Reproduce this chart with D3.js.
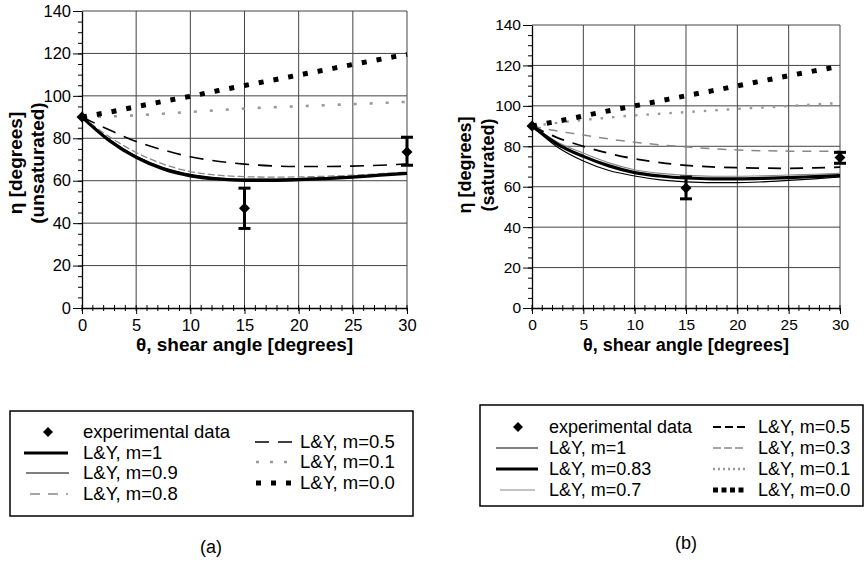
<!DOCTYPE html>
<html>
<head>
<meta charset="utf-8">
<script src="https://cdn.jsdelivr.net/npm/d3@7"></script>
<style>
  body { margin: 0; background: #fff; }
  svg { display: block; font-family: "Liberation Sans", Arial, Helvetica, sans-serif; }
</style>
</head>
<body>
<div id="chart"></div>
<script>
// Shear angle samples (degrees), shared by every curve
var theta = [0, 2.5, 5, 7.5, 10, 12.5, 15, 17.5, 20, 22.5, 25, 27.5, 30];

// Panel (a): unsaturated
var etaA_m1  = [90, 79, 71, 65.5, 62.3, 60.8, 60.2, 60.2, 60.5, 61, 61.7, 62.6, 63.5];
var etaA_m09 = [90, 79.6, 71.6, 66.2, 63, 61.4, 60.8, 60.8, 61, 61.4, 62, 62.8, 63.8];
var etaA_m08 = [90, 80.8, 73.3, 67.8, 64.3, 62.6, 61.9, 61.7, 61.8, 62.1, 62.6, 63.3, 64.1];
var etaA_m05 = [90, 84, 78.5, 74.5, 71.3, 69.2, 67.8, 67, 66.7, 66.7, 66.9, 67.3, 67.9];
var etaA_m01 = [90, 90.3, 90.8, 91.6, 92.4, 93.2, 94, 94.6, 95.1, 95.6, 96.1, 96.6, 97.2];
var etaA_m00 = [90, 92.3, 94.9, 97.4, 99.8, 102.4, 104.9, 107.3, 109.8, 112.3, 114.8, 117.2, 119.6];
var expThetaA = [0, 15, 30];
var expEtaA = [90, 47, 73.5];
var expLowA = [null, 37.5, 67.3];
var expHighA = [null, 56.5, 80.5];

// Panel (b): saturated
var etaB_m1  = [90, 79.5, 72.7, 68, 65.3, 63.4, 62.4, 62, 62, 62.4, 63.1, 63.9, 64.8];
var etaB_m083 = [90, 81, 75, 70.3, 67, 65.3, 64.3, 63.9, 63.9, 64.1, 64.5, 65, 65.5];
var etaB_m07 = [90, 82, 76.6, 71.8, 68.4, 66.6, 65.6, 65.2, 65.2, 65.4, 65.8, 66.2, 66.6];
var etaB_m05 = [90, 84.2, 80, 76.5, 73.8, 71.9, 70.6, 69.8, 69.4, 69.2, 69.1, 69.3, 69.7];
var etaB_m03 = [90, 87.5, 85.6, 83.6, 82, 80.7, 79.7, 78.8, 78.2, 77.8, 77.6, 77.5, 77.6];
var etaB_m01 = [90, 91.6, 93, 94.2, 95.3, 96.1, 96.9, 97.7, 98.5, 99.2, 99.9, 100.7, 101.4];
var etaB_m00 = [90, 92.4, 95, 97.6, 100, 102.5, 105, 107.4, 109.9, 112.4, 114.9, 117.3, 119.5];
var expThetaB = [0, 15, 30];
var expEtaB = [90, 59.4, 74.4];
var expLowB = [null, 54, 71.6];
var expHighB = [null, 64.8, 77];

// Axis ticks
var xTicks = [0, 5, 10, 15, 20, 25, 30];
var yTicks = [0, 20, 40, 60, 80, 100, 120, 140];

// Line styles
var styles = {
  thick:  { stroke: '#000', width: 3.2, dash: null },
  thin:   { stroke: '#000', width: 1.2, dash: null },
  grayA:  { stroke: '#888', width: 1.3, dash: '7,3' },
  grayB:  { stroke: '#888', width: 1.1, dash: null },
  dashA:  { stroke: '#000', width: 1.6, dash: '14,9' },
  dashB:  { stroke: '#000', width: 1.8, dash: '13,9' },
  gdash:  { stroke: '#888', width: 1.5, dash: '9,8' },
  xdot:   { stroke: '#999', width: 2.6, dash: '3,13' },
  dotB:   { stroke: '#999', width: 2.4, dash: '2.5,9' },
  square: { stroke: '#000', width: 5, dash: '5,10' }
};

var width = 866;
var height = 569;
var svg = d3.select('#chart')
  .append('svg')
  .attr('width', width)
  .attr('height', height);

function drawPanel(p) {
  var x = d3.scaleLinear().domain([0, 30]).range([p.left, p.right]);
  var y = d3.scaleLinear().domain([0, 140]).range([p.bottom, p.top]);
  var g = svg.append('g');

  // Grid lines
  g.append('g')
   .selectAll('line')
   .data(xTicks.slice(1))
   .join('line')
   .attr('x1', function (d) { return x(d); })
   .attr('x2', function (d) { return x(d); })
   .attr('y1', y(0))
   .attr('y2', y(140))
   .attr('stroke', '#444')
   .attr('stroke-width', 1);
  g.append('g')
   .selectAll('line')
   .data(yTicks.slice(1))
   .join('line')
   .attr('x1', x(0))
   .attr('x2', x(30))
   .attr('y1', function (d) { return y(d); })
   .attr('y2', function (d) { return y(d); })
   .attr('stroke', '#444')
   .attr('stroke-width', 1);

  // Minor ticks
  g.append('g')
   .attr('transform', 'translate(' + x(0) + ',0)')
   .call(d3.axisLeft(y).tickValues(d3.range(0, 141, 5)).tickSize(4).tickSizeOuter(0).tickFormat(''))
   .call(function (s) { s.select('.domain').remove(); });
  g.append('g')
   .selectAll('line')
   .data(d3.range(0, 31, 1))
   .join('line')
   .attr('x1', function (d) { return x(d); })
   .attr('x2', function (d) { return x(d); })
   .attr('y1', y(0) - 3)
   .attr('y2', y(0) + 3)
   .attr('stroke', '#000');

  // Axes
  var yAxis = g.append('g')
   .attr('transform', 'translate(' + x(0) + ',0)')
   .call(d3.axisLeft(y).tickValues(yTicks).tickSize(9).tickSizeOuter(0).tickPadding(2));
  var xAxis = g.append('g')
   .attr('transform', 'translate(0,' + y(0) + ')')
   .call(d3.axisBottom(x).tickValues(xTicks).tickSize(6).tickSizeOuter(0).tickPadding(5));
  [yAxis, xAxis].forEach(function (a) {
    a.selectAll('text')
     .attr('font-size', p.tickFont)
     .attr('font-family', '"Liberation Sans", Arial, sans-serif')
     .attr('fill', '#000');
    a.select('.domain').attr('stroke-width', 1.3);
  });

  // Axis titles
  g.append('text')
   .attr('x', (x(0) + x(30)) / 2)
   .attr('y', p.xTitleY)
   .attr('text-anchor', 'middle')
   .attr('font-size', p.titleFont)
   .attr('font-weight', 'bold')
   .text('\u03b8, shear angle [degrees]');
  p.yTitle.forEach(function (t, i) {
    g.append('text')
     .attr('transform', 'translate(' + p.yTitleX[i] + ',' + p.yTitleY + ') rotate(-90)')
     .attr('text-anchor', 'middle')
     .attr('dy', '0.35em')
     .attr('font-size', p.titleFont)
     .attr('font-weight', 'bold')
     .text(t);
  });

  // Curves
  var line = d3.line()
    .x(function (d, i) { return x(theta[i]); })
    .y(function (d) { return y(d); })
    .curve(d3.curveMonotoneX);
  g.append('g')
   .selectAll('path')
   .data(p.series)
   .join('path')
   .attr('d', function (s) { return line(s.values); })
   .attr('fill', 'none')
   .attr('stroke', function (s) { return s.style.stroke; })
   .attr('stroke-width', function (s) { return s.style.width; })
   .attr('stroke-dasharray', function (s) { return s.style.dash; });

  // Experimental data with error bars
  var exp = p.exp.theta.map(function (t, i) {
    return { theta: t, eta: p.exp.eta[i], low: p.exp.low[i], high: p.exp.high[i] };
  });
  var bars = exp.filter(function (d) { return d.low !== null; });
  var eb = g.append('g').attr('stroke', '#000').attr('stroke-width', 3);
  eb.selectAll('.stem')
    .data(bars)
    .join('line')
    .attr('x1', function (d) { return x(d.theta); })
    .attr('x2', function (d) { return x(d.theta); })
    .attr('y1', function (d) { return y(d.low); })
    .attr('y2', function (d) { return y(d.high); });
  eb.selectAll('.cap')
    .data(bars.flatMap(function (d) { return [[d.theta, d.low], [d.theta, d.high]]; }))
    .join('line')
    .attr('x1', function (d) { return x(d[0]) - 6; })
    .attr('x2', function (d) { return x(d[0]) + 6; })
    .attr('y1', function (d) { return y(d[1]); })
    .attr('y2', function (d) { return y(d[1]); });
  g.append('g')
   .selectAll('path')
   .data(exp)
   .join('path')
   .attr('d', d3.symbol(d3.symbolSquare, 60))
   .attr('transform', function (d) {
     return 'translate(' + x(d.theta) + ',' + y(d.eta) + ') rotate(45)';
   })
   .attr('fill', '#000');
}

function drawLegend(box, items) {
  var g = svg.append('g');
  g.append('rect')
   .attr('x', box.x)
   .attr('y', box.y)
   .attr('width', box.w)
   .attr('height', box.h)
   .attr('fill', 'none')
   .attr('stroke', '#000')
   .attr('stroke-width', 1.5);
  items.forEach(function (it) {
    if (it.style) {
      g.append('line')
       .attr('x1', it.x1)
       .attr('x2', it.x2)
       .attr('y1', it.y)
       .attr('y2', it.y)
       .attr('stroke', it.style.stroke)
       .attr('stroke-width', it.style.width)
       .attr('stroke-dasharray', it.legendDash || it.style.dash);
    } else {
      g.append('path')
       .attr('d', d3.symbol(d3.symbolSquare, 50))
       .attr('transform', 'translate(' + it.x1 + ',' + it.y + ') rotate(45)')
       .attr('fill', '#000');
    }
    g.append('text')
     .attr('x', it.tx)
     .attr('y', it.y)
     .attr('dy', '0.35em')
     .attr('font-size', box.font)
     .text(it.label);
  });
}

// Panel (a)
drawPanel({
  left: 82, right: 407, top: 11, bottom: 308,
  tickFont: 16.5, titleFont: 19, xTitleY: 351,
  yTitle: ['\u03b7 [degrees]', '(unsaturated)'], yTitleX: [15, 37], yTitleY: 163,
  series: [
    { values: etaA_m08, style: styles.grayA },
    { values: etaA_m01, style: styles.xdot },
    { values: etaA_m05, style: styles.dashA },
    { values: etaA_m00, style: styles.square },
    { values: etaA_m09, style: styles.thin },
    { values: etaA_m1, style: styles.thick }
  ],
  exp: { theta: expThetaA, eta: expEtaA, low: expLowA, high: expHighA }
});

// Panel (b)
drawPanel({
  left: 532, right: 840, top: 25, bottom: 308,
  tickFont: 15.5, titleFont: 18, xTitleY: 351,
  yTitle: ['\u03b7 [degrees]', '(saturated)'], yTitleX: [465, 488], yTitleY: 165,
  series: [
    { values: etaB_m07, style: styles.grayB },
    { values: etaB_m03, style: styles.gdash },
    { values: etaB_m01, style: styles.dotB },
    { values: etaB_m05, style: styles.dashB },
    { values: etaB_m00, style: styles.square },
    { values: etaB_m1, style: styles.thin },
    { values: etaB_m083, style: styles.thick }
  ],
  exp: { theta: expThetaB, eta: expEtaB, low: expLowB, high: expHighB }
});

// Legends
drawLegend({ x: 10, y: 411, w: 403, h: 105, font: 18.5 }, [
  { label: 'experimental data', x1: 48, y: 432, tx: 83 },
  { label: 'L&Y, m=1', style: styles.thick, x1: 24, x2: 68, y: 453, tx: 83 },
  { label: 'L&Y, m=0.9', style: styles.thin, x1: 26, x2: 69, y: 473, tx: 83 },
  { label: 'L&Y, m=0.8', style: styles.grayA, legendDash: '10,8', x1: 30, x2: 68, y: 494, tx: 83 },
  { label: 'L&Y, m=0.5', style: styles.dashA, legendDash: '14,9', x1: 255, x2: 293, y: 442, tx: 300 },
  { label: 'L&Y, m=0.1', style: styles.xdot, legendDash: '3,11', x1: 256, x2: 293, y: 462, tx: 300 },
  { label: 'L&Y, m=0.0', style: styles.square, legendDash: '5,10', x1: 256, x2: 293, y: 483, tx: 300 }
]);

drawLegend({ x: 480, y: 405, w: 383, h: 101, font: 18 }, [
  { label: 'experimental data', x1: 518, y: 427, tx: 549 },
  { label: 'L&Y, m=1', style: styles.thin, x1: 496, x2: 538, y: 448, tx: 549 },
  { label: 'L&Y, m=0.83', style: styles.thick, x1: 496, x2: 538, y: 469, tx: 549 },
  { label: 'L&Y, m=0.7', style: styles.grayB, x1: 500, x2: 535, y: 490, tx: 549 },
  { label: 'L&Y, m=0.5', style: styles.dashB, legendDash: '8,4', x1: 713, x2: 745, y: 427, tx: 758 },
  { label: 'L&Y, m=0.3', style: styles.gdash, legendDash: '8,3', x1: 713, x2: 745, y: 448, tx: 758 },
  { label: 'L&Y, m=0.1', style: styles.dotB, legendDash: '2,3', x1: 713, x2: 745, y: 469, tx: 758 },
  { label: 'L&Y, m=0.0', style: styles.square, legendDash: '5,3.5', x1: 713, x2: 745, y: 490, tx: 758 }
]);

// Panel captions
svg.append('text')
   .attr('x', 211)
   .attr('y', 547)
   .attr('dy', '0.35em')
   .attr('text-anchor', 'middle')
   .attr('font-size', 18)
   .text('(a)');
svg.append('text')
   .attr('x', 686)
   .attr('y', 543)
   .attr('dy', '0.35em')
   .attr('text-anchor', 'middle')
   .attr('font-size', 18)
   .text('(b)');
</script>
</body>
</html>
